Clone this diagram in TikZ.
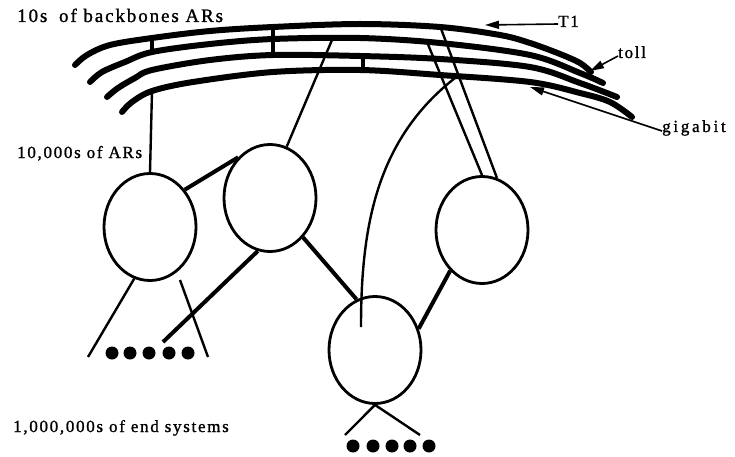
\documentclass[tikz,border=0pt]{standalone}
\usepackage{fontspec}
\usepackage{tikz}
\usetikzlibrary{shapes.geometric,arrows.meta}
\newfontfamily\labelfont[LetterSpace=10,FakeBold=1.2]{Liberation Serif}

\begin{document}
\begin{tikzpicture}[x=1pt,y=-1pt,
  bb/.style={line width=6pt, line cap=round},
  bar/.style={line width=4.5pt},
  ar/.style={ellipse, draw, line width=2.8pt, inner sep=0pt, minimum width=92pt, minimum height=107pt},
  link/.style={line width=2.4pt},
  trunk/.style={line width=4pt},
  dot/.style={circle, fill, inner sep=0pt, minimum size=13pt},
  lbl/.style={font=\labelfont\fontsize{17}{20}\selectfont, inner sep=0pt},
  pointer/.style={line width=1.6pt, -{Triangle[length=14pt,width=8pt]}}]
\useasboundingbox (0,0) rectangle (735,457);

% backbone rings
\draw[bb] plot[smooth, tension=0.55] coordinates {(75,65) (87,55) (110,45) (152,38) (210,31) (273,27) (360,24) (440,27) (500,35) (530,43) (560,54) (580,63) (591,72)};
\draw[bb] plot[smooth, tension=0.55] coordinates {(90,82) (102,72) (125,62) (152,52) (210,44) (273,39) (360,38) (440,43) (530,55) (580,73) (603,83)};
\draw[bb] plot[smooth, tension=0.55] coordinates {(107,97) (118,88) (135,78) (152,70) (210,60) (273,55) (360,56) (440,59) (530,67) (580,83) (617,97)};
\draw[bb] plot[smooth, tension=0.55] coordinates {(122,112) (132,102) (152,91) (193,82) (273,72) (360,70) (440,75) (530,82) (580,93) (610,102) (632,117)};
% cross links between rings
\draw[bar] (152,39) -- (152,52);
\draw[bar] (273,27) -- (273,55);
\draw[bar] (363,56) -- (363,70);

% taps on the backbone
\coordinate (tapA) at (152,91);
\coordinate (tapB) at (332,40);
\coordinate (tapC) at (427,42);
\coordinate (tapD) at (440,26);
\coordinate (tapE) at (455,78);

% access routers
\node[ar] (e1) at (150,227) {};
\node[ar] (e2) at (270,198) {};
\node[ar] (e3) at (482,230) {};
\node[ar] (e4) at (375,350) {};

\draw[link] (tapA) -- (e1.north);
\draw[link] (tapB) -- (e2.72);
\draw[link] (tapC) -- (e3.90);
\draw[link] (tapD) -- (e3.74);
\coordinate (e4in) at (361,327);
\draw[link] (tapE) .. controls (376,140) and (361,227) .. (e4in);

\draw[trunk] (e1.47) -- (e2.128);
\draw[trunk] (e2.-50) -- (e4.110);
\draw[trunk] (e3.232) -- (e4.26);
\coordinate (hostA) at (163,342);
\draw[trunk] (e2.-103) -- (hostA);

% end systems
\coordinate (legA1) at (88,357);
\coordinate (legA2s) at (180,280);
\coordinate (legA2) at (208,357);
\draw[link] (e1.253) -- (legA1);
\draw[link] (legA2s) -- (legA2);
\foreach \x [count=\i] in {112,130,149,169,188}
  \node[dot] (da\i) at (\x,353) {};

\coordinate (legB1) at (345,435);
\coordinate (legB2) at (420,435);
\draw[link] (e4.south) -- (legB1);
\draw[link] (e4.south) -- (legB2);
\foreach \x [count=\i] in {353,373,392,410,429}
  \node[dot] (db\i) at (\x,446) {};

% labels
\node[lbl, anchor=base west, font=\labelfont\fontsize{19}{22}\selectfont] (top) at (17,22) {10s\hspace{5pt} of backbones ARs};
\node[lbl, anchor=base west] (mid) at (17,158) {10,000s of ARs};
\node[lbl, anchor=base west] (low) at (13,432) {1,000,000s of end systems};

\node[lbl, anchor=base west] (t1) at (558,27) {T1};
\node[lbl, anchor=base west] (toll) at (618,58) {toll};
\node[lbl, anchor=base west] (giga) at (662,132) {\addfontfeature{LetterSpace=16}gigabit};
\coordinate (t1tip) at (485,25);
\coordinate (tolltip) at (590,71);
\coordinate (gigatip) at (530,87);
\draw[pointer] ([yshift=3pt]t1.base west) -- (t1tip);
\draw[pointer] ([yshift=2pt]toll.base west) -- (tolltip);
\draw[pointer] ([yshift=1pt]giga.base west) -- (gigatip);
\end{tikzpicture}
\end{document}
